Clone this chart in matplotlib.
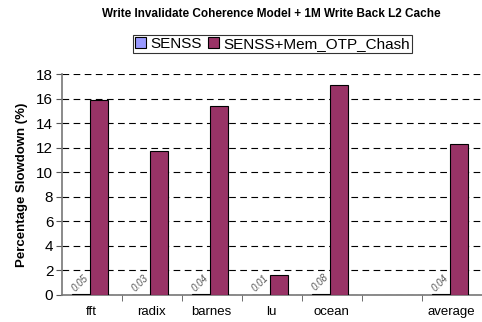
import matplotlib.pyplot as plt
import numpy as np

plt.rcParams['font.family'] = ['Liberation Sans', 'DejaVu Sans']

# Данные
categories = ["fft", "radix", "barnes", "lu", "ocean", "", "average"]
senss = [0.05, 0.03, 0.04, 0.01, 0.08, None, 0.04]
senss_otp = [15.85, 11.75, 15.4, 1.62, 17.1, None, 12.3]
senss_labels = ["0.05", "0.03", "0.04", "0.01", "0.08", "", "0.04"]

x = np.arange(len(categories))
w = 0.3

fig = plt.figure(figsize=(4.82, 3.22), dpi=100)
ax = fig.add_axes([0.128, 0.084, 0.871, 0.686])

s1 = [v if v is not None else 0 for v in senss]
s2 = [v if v is not None else 0 for v in senss_otp]
mask = [v is not None for v in senss]
xs = x[mask]
b1 = ax.bar(xs - w / 2 - 0.02, np.array(s1)[mask], w, color="#9999FF",
            edgecolor="black", linewidth=0.8, label="SENSS", zorder=3)
b2 = ax.bar(xs + w / 2 - 0.02, np.array(s2)[mask], w, color="#993366",
            edgecolor="black", linewidth=0.8, label="SENSS+Mem_OTP_Chash",
            zorder=3)

# Подписи маленьких значений
for xi, v, lab in zip(x, senss, senss_labels):
    if v is None:
        continue
    ax.text(xi - w / 2 - 0.04, v + 0.1, lab, rotation=45, fontsize=7,
            color="#555555", ha="center", va="bottom", style="italic")

ax.set_xlim(-0.5, len(categories) - 0.5)
ax.set_ylim(0, 18)
ax.set_yticks(range(0, 19, 2))
ax.set_xticks(x)
ax.set_xticklabels(categories, fontsize=9.5)
ax.set_xticks(np.arange(0.5, len(categories) - 0.5, 1), minor=True)
ax.tick_params(axis="x", which="major", length=0, pad=8)
ax.tick_params(axis="x", which="minor", length=4, color="#555555")
ax.tick_params(axis="y", labelsize=11, length=4, color="#555555", pad=2)
ax.yaxis.grid(True, linestyle=(0, (6, 4)), color="black", linewidth=0.8)
ax.set_axisbelow(True)
for s in ["top", "right"]:
    ax.spines[s].set_visible(False)
for s in ["left", "bottom"]:
    ax.spines[s].set_color("#777777")
    ax.spines[s].set_linewidth(1.2)

ax.set_ylabel("Percentage Slowdown (%)", fontsize=9.5, fontweight="bold",
              labelpad=6)
fig.suptitle("Write Invalidate Coherence Model + 1M Write Back L2 Cache",
             fontsize=8.5, fontweight="bold", x=0.563, y=0.975)

leg = fig.legend(handles=[b1, b2], loc="center", bbox_to_anchor=(0.565, 0.863),
                 ncol=2, fontsize=11, frameon=True, fancybox=False,
                 edgecolor="black", handlelength=0.7, handleheight=0.7,
                 handletextpad=0.3, columnspacing=0.4, borderpad=0.15,
                 borderaxespad=0)
leg.get_frame().set_linewidth(0.8)

plt.savefig("out.png", dpi=100)
